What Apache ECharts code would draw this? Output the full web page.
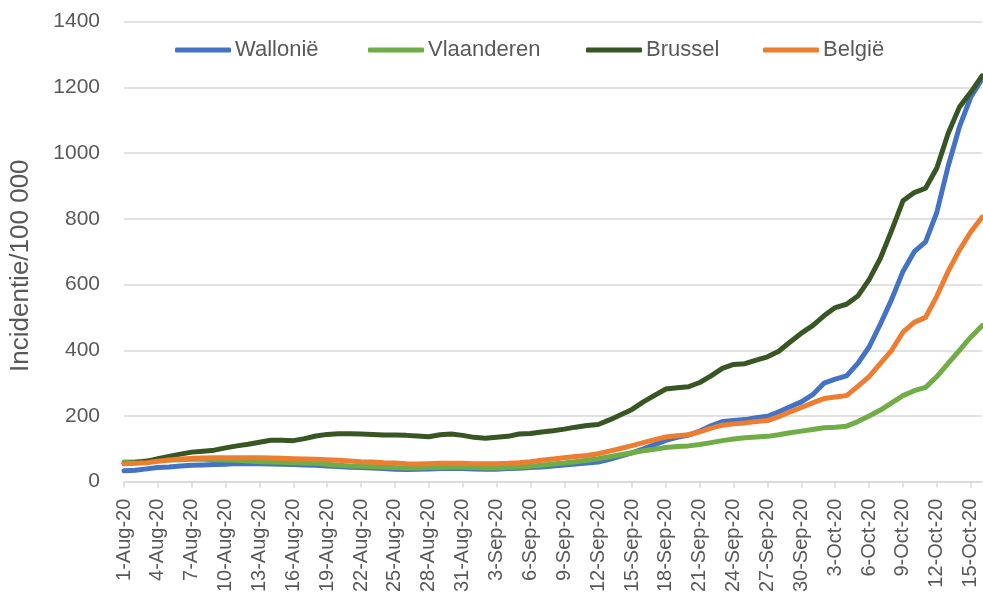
<!DOCTYPE html>
<html>
<head>
<meta charset="utf-8">
<script src="https://cdn.jsdelivr.net/npm/echarts@6/dist/echarts.min.js"></script>
<style>
html,body{margin:0;padding:0;background:#fff;}
#chart{width:983px;height:597px;}
</style>
</head>
<body>
<div id="chart"></div>
<script>
const categories = [
"1-Aug-20","2-Aug-20","3-Aug-20","4-Aug-20","5-Aug-20","6-Aug-20","7-Aug-20","8-Aug-20","9-Aug-20","10-Aug-20",
"11-Aug-20","12-Aug-20","13-Aug-20","14-Aug-20","15-Aug-20","16-Aug-20","17-Aug-20","18-Aug-20","19-Aug-20","20-Aug-20",
"21-Aug-20","22-Aug-20","23-Aug-20","24-Aug-20","25-Aug-20","26-Aug-20","27-Aug-20","28-Aug-20","29-Aug-20","30-Aug-20",
"31-Aug-20","1-Sep-20","2-Sep-20","3-Sep-20","4-Sep-20","5-Sep-20","6-Sep-20","7-Sep-20","8-Sep-20","9-Sep-20",
"10-Sep-20","11-Sep-20","12-Sep-20","13-Sep-20","14-Sep-20","15-Sep-20","16-Sep-20","17-Sep-20","18-Sep-20","19-Sep-20",
"20-Sep-20","21-Sep-20","22-Sep-20","23-Sep-20","24-Sep-20","25-Sep-20","26-Sep-20","27-Sep-20","28-Sep-20","29-Sep-20",
"30-Sep-20","1-Oct-20","2-Oct-20","3-Oct-20","4-Oct-20","5-Oct-20","6-Oct-20","7-Oct-20","8-Oct-20","9-Oct-20",
"10-Oct-20","11-Oct-20","12-Oct-20","13-Oct-20","14-Oct-20","15-Oct-20","16-Oct-20"
];

const wallonie = [
33,35,39,43,45,48,50,51,52,53,
55,55,55,54,53,52,51,50,48,46,
44,43,42,40,38,37,38,39,40,40,
40,39,38,38,40,41,43,45,48,51,
54,57,60,68,78,88,100,113,126,135,
142,154,170,183,186,189,195,199,213,228,
243,265,300,312,322,360,410,480,555,640,
700,730,820,960,1080,1170,1225
];

const vlaanderen = [
60,61,63,65,66,67,68,68,67,66,
65,63,61,60,59,58,57,56,53,50,
48,47,46,45,43,42,42,43,43,44,
44,43,42,42,43,45,47,50,54,57,
61,65,70,76,82,88,94,99,104,107,
109,113,119,125,130,134,136,138,143,149,
154,159,164,166,169,183,200,218,240,262,
277,287,320,360,400,440,475
];

const brussel = [
55,58,62,70,77,84,90,93,96,103,
109,114,120,126,126,125,131,139,144,146,
146,145,144,142,142,141,139,137,143,145,
141,135,132,135,138,145,147,151,155,160,
166,171,174,188,204,220,243,263,282,286,
289,302,322,345,357,359,370,380,397,425,
452,475,505,530,540,565,615,680,765,855,
880,893,955,1060,1140,1185,1235
];

const belgie = [
55,56,58,62,66,69,71,72,73,73,
73,73,73,72,71,70,69,68,67,65,
63,61,60,58,57,55,54,55,56,56,
56,55,55,55,56,58,61,65,69,73,
77,80,85,93,101,110,119,128,136,140,
143,152,163,172,176,179,183,186,198,212,
226,240,253,258,262,290,320,360,400,455,
485,500,565,640,705,760,805
];

const seriesNames = ["Wallonië","Vlaanderen","Brussel","België"];
const seriesColors = ["#4472C4","#70AD47","#375623","#ED7D31"];
const seriesData = [wallonie, vlaanderen, brussel, belgie];
const legendLefts = [170, 363, 581, 758];

const FONT = "'Liberation Sans', 'DejaVu Sans', sans-serif";
const TXT = "#595959";

const chart = echarts.init(document.getElementById('chart'));
chart.setOption({
  animation: false,
  backgroundColor: '#ffffff',
  textStyle: { fontFamily: FONT },
  grid: { left: 124, right: 1, top: 21.7, bottom: 115.3, containLabel: false },
  legend: seriesNames.map((n, i) => ({
    data: [n],
    left: legendLefts[i],
    top: 34,
    icon: 'roundRect',
    itemWidth: 56,
    itemHeight: 5,
    itemGap: 4,
    textStyle: { fontSize: 22, color: TXT, fontFamily: FONT, padding: [0,0,0,-1] }
  })),
  xAxis: {
    type: 'category',
    data: categories,
    boundaryGap: false,
    axisLine: { lineStyle: { color: '#D9D9D9', width: 1.5 } },
    axisTick: { show: true, interval: 2, length: 6, lineStyle: { color: '#D9D9D9', width: 1.5 } },
    axisLabel: { interval: 2, rotate: 90, fontSize: 20, color: TXT, margin: 17, fontFamily: FONT },
    splitLine: { show: false }
  },
  yAxis: {
    type: 'value',
    min: 0, max: 1400, interval: 200,
    name: 'Incidentie/100 000',
    nameLocation: 'middle',
    nameGap: 90,
    nameRotate: 90,
    nameTextStyle: { fontSize: 26, color: TXT, fontFamily: FONT, padding: [0, 28, 0, 0] },
    axisLine: { show: false },
    axisTick: { show: false },
    axisLabel: { fontSize: 21, color: TXT, margin: 24, fontFamily: FONT, formatter: v => String(v) },
    splitLine: { lineStyle: { color: '#D9D9D9', width: 1.5 } }
  },
  series: seriesNames.map((n, i) => ({
    name: n,
    type: 'line',
    data: seriesData[i],
    symbol: 'none',
    showSymbol: false,
    smooth: false,
    color: seriesColors[i],
    lineStyle: { width: 5, color: seriesColors[i], cap: 'round', join: 'round' },
    z: 2 + i
  }))
});
</script>
</body>
</html>
